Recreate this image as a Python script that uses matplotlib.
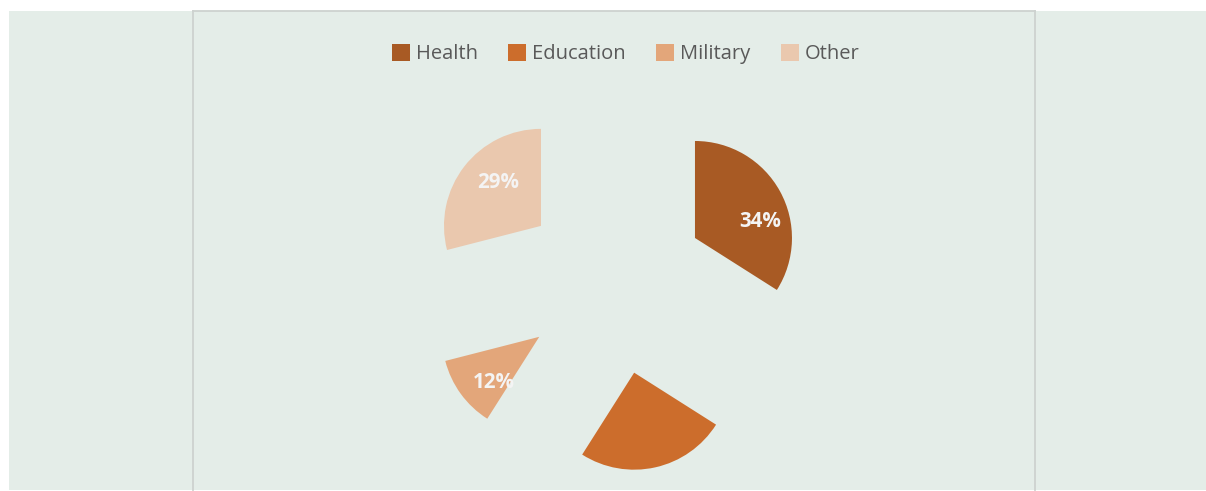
import matplotlib.pyplot as plt
from matplotlib.patches import Rectangle

# spending shares
categories = ['Health', 'Education', 'Military', 'Other']
shares = [34, 25, 12, 29]
show_label = [True, False, True, True]
colors = ['#a85a24', '#cc6d2c', '#e3a67a', '#eac8ae']

W, H = 1206, 491
fig = plt.figure(figsize=(W / 100, H / 100), dpi=100)
fig.patch.set_facecolor('white')
ax = fig.add_axes([0, 0, 1, 1])

bg = '#e4ede8'
line_col = '#cdd2cf'

# 分割後的圓餅圖 (explode 以絕對距離計)
wedges, texts, autotexts = ax.pie(
    shares, colors=colors, startangle=90, counterclock=False,
    explode=[92.4] * len(shares), radius=97, center=(614, H - 282.5),
    autopct='%.0f%%', pctdistance=0.66, frame=False,
    wedgeprops=dict(linewidth=0, zorder=3),
    textprops=dict(color='#f4f4f4', fontsize=14.8, fontweight='bold', family='Open Sans'),
)
# 標籤微調 (像素)
label_nudge = [(9, -14), (0, 0), (6.5, -8.5), (8, 4.5)]
for t, show, (dx, dy) in zip(autotexts, show_label, label_nudge):
    x, y = t.get_position()
    t.set_position((x + dx, y + dy))
    t.set_visible(show)
    t.set_zorder(4)

ax.set_xlim(0, W)
ax.set_ylim(0, H)
ax.set_aspect('equal')
ax.axis('off')

# 背景面板與圖表框線
ax.add_patch(Rectangle((9, 1), W - 9, H - 12, facecolor=bg, edgecolor='none', zorder=0))
ax.plot([193, 193], [1, H - 11], color=line_col, lw=1.3, zorder=1)
ax.plot([1035, 1035], [1, H - 11], color=line_col, lw=1.3, zorder=1)
ax.plot([193, 1035], [H - 11, H - 11], color=line_col, lw=1.3, zorder=1)

leg = ax.legend(wedges, categories, loc='center', bbox_to_anchor=(625.5 / W, 1 - 54 / H),
                ncol=4, frameon=False, handlelength=0.9, handleheight=0.9,
                handletextpad=0.3, columnspacing=1.5,
                prop={'family': 'Open Sans', 'size': 14.5})
for txt in leg.get_texts():
    txt.set_color('#595959')

plt.savefig('out.png', dpi=100, facecolor=fig.get_facecolor())
